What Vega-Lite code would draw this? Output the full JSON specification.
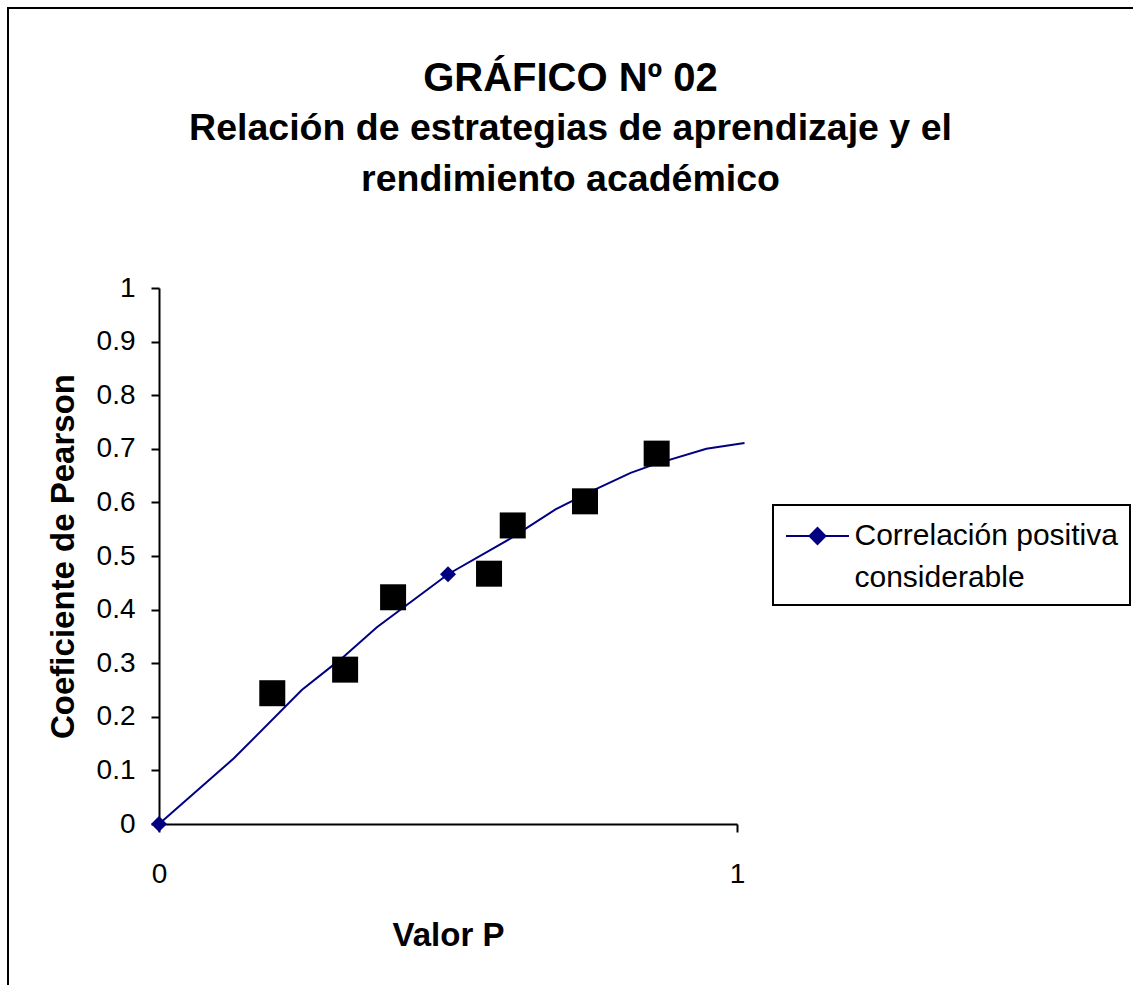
{
  "$schema": "https://vega.github.io/schema/vega-lite/v6.json",
  "autosize": {"type": "none"},
  "width": 1129,
  "height": 981,
  "padding": {"left": 8, "top": 8, "right": 0, "bottom": 0},
  "background": "white",
  "title": {
    "text": "GRÁFICO Nº 02",
    "subtitle": ["Relación de estrategias de aprendizaje y el", "rendimiento académico"],
    "anchor": "middle",
    "frame": "group",
    "offset": -190,
    "dx": -2,
    "font": "Liberation Sans",
    "fontSize": 40,
    "fontWeight": "bold",
    "color": "black",
    "subtitleFont": "Liberation Sans",
    "subtitleFontSize": 37.5,
    "subtitleFontWeight": "bold",
    "subtitleColor": "black",
    "subtitleLineHeight": 51,
    "subtitlePadding": 11
  },
  "datasets": {
    "curva": [
      {"valor_p": 0, "pearson": 0, "serie": "Correlación positiva considerable"},
      {"valor_p": 0.13, "pearson": 0.123, "serie": "Correlación positiva considerable"},
      {"valor_p": 0.247, "pearson": 0.25, "serie": "Correlación positiva considerable"},
      {"valor_p": 0.316, "pearson": 0.309, "serie": "Correlación positiva considerable"},
      {"valor_p": 0.377, "pearson": 0.367, "serie": "Correlación positiva considerable"},
      {"valor_p": 0.5, "pearson": 0.466, "serie": "Correlación positiva considerable"},
      {"valor_p": 0.607, "pearson": 0.532, "serie": "Correlación positiva considerable"},
      {"valor_p": 0.686, "pearson": 0.587, "serie": "Correlación positiva considerable"},
      {"valor_p": 0.754, "pearson": 0.624, "serie": "Correlación positiva considerable"},
      {"valor_p": 0.816, "pearson": 0.655, "serie": "Correlación positiva considerable"},
      {"valor_p": 0.857, "pearson": 0.671, "serie": "Correlación positiva considerable"},
      {"valor_p": 0.947, "pearson": 0.7, "serie": "Correlación positiva considerable"},
      {"valor_p": 1.013, "pearson": 0.711, "serie": "Correlación positiva considerable"}
    ],
    "marcadores": [
      {"valor_p": 0, "pearson": 0},
      {"valor_p": 0.5, "pearson": 0.466}
    ],
    "observados": [
      {"valor_p": 0.196, "pearson": 0.244},
      {"valor_p": 0.322, "pearson": 0.288},
      {"valor_p": 0.405, "pearson": 0.423},
      {"valor_p": 0.571, "pearson": 0.467},
      {"valor_p": 0.612, "pearson": 0.557},
      {"valor_p": 0.737, "pearson": 0.602},
      {"valor_p": 0.861, "pearson": 0.691}
    ]
  },
  "encoding": {
    "x": {
      "field": "valor_p",
      "type": "quantitative",
      "scale": {"domain": [0, 1], "range": [151, 729], "nice": false, "zero": false},
      "axis": {
        "title": "Valor P",
        "values": [0, 1],
        "format": "d",
        "offset": -165,
        "grid": false,
        "domainColor": "black",
        "domainWidth": 2,
        "tickColor": "black",
        "tickWidth": 2,
        "tickSize": 8,
        "labelFont": "Liberation Sans",
        "labelFontSize": 28,
        "labelColor": "black",
        "labelPadding": 28,
        "labelFlush": false,
        "titleFont": "Liberation Sans",
        "titleFontSize": 33,
        "titleFontWeight": "bold",
        "titleColor": "black",
        "titlePadding": 31
      }
    },
    "y": {
      "field": "pearson",
      "type": "quantitative",
      "scale": {"domain": [0, 1], "range": [816, 280], "nice": false, "zero": false},
      "axis": {
        "title": "Coeficiente de Pearson",
        "values": [0, 0.1, 0.2, 0.3, 0.4, 0.5, 0.6, 0.7, 0.8, 0.9, 1],
        "format": ".1~f",
        "offset": -151,
        "grid": false,
        "domainColor": "black",
        "domainWidth": 2,
        "tickColor": "black",
        "tickWidth": 2,
        "tickSize": 8,
        "labelFont": "Liberation Sans",
        "labelFontSize": 28,
        "labelColor": "black",
        "labelPadding": 16,
        "labelFlush": false,
        "titleFont": "Liberation Sans",
        "titleFontSize": 33,
        "titleFontWeight": "bold",
        "titleColor": "black",
        "titlePadding": 16
      }
    }
  },
  "layer": [
    {
      "data": {"name": "curva"},
      "mark": {"type": "line", "strokeWidth": 2, "clip": false},
      "encoding": {
        "color": {
          "field": "serie",
          "type": "nominal",
          "scale": {"domain": ["Correlación positiva considerable"], "range": ["#000080"]},
          "legend": {
            "title": null,
            "orient": "none",
            "legendX": 765,
            "legendY": 497,
            "padding": 12,
            "strokeColor": "black",
            "symbolType": "M-1.75,0L1.75,0M0,-0.45L0.44,0L0,0.45L-0.44,0Z",
            "symbolSize": 1296,
            "symbolOffset": 13.5,
            "symbolStrokeWidth": 2,
            "symbolFillColor": "#000080",
            "symbolStrokeColor": "#000080",
            "labelFont": "Liberation Sans",
            "labelFontSize": 30,
            "labelColor": "black",
            "labelLimit": 400,
            "labelOffset": 18,
            "labelExpr": "['Correlación positiva', 'considerable']",
            "encode": {
              "labels": {"update": {"lineHeight": {"value": 42}}}
            }
          }
        }
      }
    },
    {
      "data": {"name": "observados"},
      "mark": {"type": "point", "shape": "square", "filled": true, "color": "black", "opacity": 1, "size": 676}
    },
    {
      "data": {"name": "marcadores"},
      "mark": {"type": "point", "shape": "diamond", "filled": true, "color": "#000080", "opacity": 1, "size": 256, "clip": false}
    }
  ],
  "config": {
    "view": {"stroke": "black", "strokeWidth": 2, "fill": "white"},
    "legend": {"strokeWidth": 2}
  }
}
